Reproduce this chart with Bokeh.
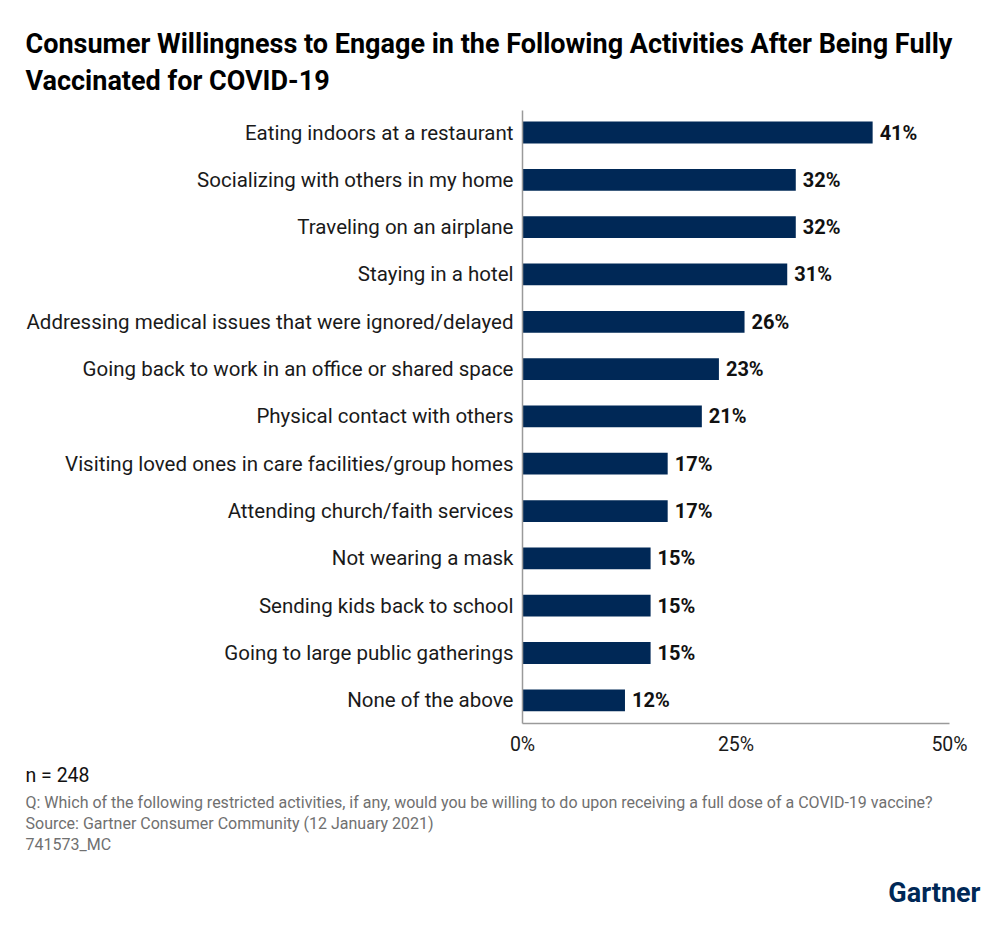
from bokeh.plotting import figure
from bokeh.models import ColumnDataSource, FixedTicker, Title
from bokeh.core.properties import value
from bokeh.embed import file_html
from bokeh.resources import INLINE

categories = [
    "Eating indoors at a restaurant",
    "Socializing with others in my home",
    "Traveling on an airplane",
    "Staying in a hotel",
    "Addressing medical issues that were ignored/delayed",
    "Going back to work in an office or shared space",
    "Physical contact with others",
    "Visiting loved ones in care facilities/group homes",
    "Attending church/faith services",
    "Not wearing a mask",
    "Sending kids back to school",
    "Going to large public gatherings",
    "None of the above",
]
values = [41, 32, 32, 31, 26, 23, 21, 17, 17, 15, 15, 15, 12]
x_ticks = [0, 25, 50]
x_tick_labels = ["0%", "25%", "50%"]

title_lines = [
    "Consumer Willingness to Engage in the Following Activities After Being Fully",
    "Vaccinated for COVID-19",
]
notes = [
    "n = 248",
    "Q: Which of the following restricted activities, if any, would you be willing to do upon receiving a full dose of a COVID-19 vaccine?",
    "Source: Gartner Consumer Community (12 January 2021)",
    "741573_MC",
]
brand = "Gartner"

n = len(categories)
ypos = [n - 1 - i for i in range(n)]
src = ColumnDataSource(dict(y=ypos, v=values, lab=[f"{v}%" for v in values]))

W, H = 1000, 947
FL, FR, FT, FB = 522, 949, 110, 723

p = figure(width=W, height=H, output_backend="svg", toolbar_location=None,
           x_range=(0, 50), y_range=(-0.49, n - 1 + 0.465),
           min_border_left=FL, min_border_right=W - FR,
           min_border_top=FT, min_border_bottom=H - FB)
p.outline_line_color = None
p.grid.grid_line_color = None
p.background_fill_color = "white"
p.border_fill_color = "white"

p.hbar(y="y", right="v", left=0, height=0.46, source=src,
       fill_color="#002856", line_color=None)
p.text(x="v", y="y", text="lab", source=src, x_offset=7,
       text_baseline="middle", text_align="left",
       text_font=value("Roboto"), text_font_style="bold",
       text_font_size="20px", text_color="#111111")

# y axis: categories
p.yaxis.ticker = FixedTicker(ticks=ypos)
p.yaxis.major_label_overrides = {y: c for y, c in zip(ypos, categories)}
p.yaxis.major_tick_line_color = None
p.yaxis.minor_tick_line_color = None
p.yaxis.axis_line_color = "#9a9a9a"
p.yaxis.axis_line_width = 1.5
p.yaxis.major_label_text_font = "Roboto"
p.yaxis.major_label_text_font_size = "20.5px"
p.yaxis.major_label_text_color = "#1a1a1a"
p.yaxis.major_label_standoff = 3

# x axis
p.xaxis.ticker = FixedTicker(ticks=x_ticks)
p.xaxis.major_label_overrides = {t: l for t, l in zip(x_ticks, x_tick_labels)}
p.xaxis.major_tick_line_color = None
p.xaxis.minor_tick_line_color = None
p.xaxis.axis_line_color = "#9a9a9a"
p.xaxis.axis_line_width = 1.5
p.xaxis.major_label_text_font = "Roboto"
p.xaxis.major_label_text_font_size = "19.5px"
p.xaxis.major_label_text_color = "#1a1a1a"
p.xaxis.major_label_standoff = 3


def title(text, side, size, color, bold=False, align="left", offset=None,
          standoff=0, line_height=1.0):
    if offset is None:
        offset = 25 - FL
    p.add_layout(Title(text=text, text_font="Roboto", text_font_size=size,
                       text_color=color, text_font_style="bold" if bold else "normal",
                       align=align, offset=offset, standoff=standoff,
                       text_line_height=line_height), side)


# above: two-line title
title("\n".join(title_lines), "above", "27px", "#000000", bold=True,
      standoff=27, line_height=1.16)
# below: closest to the axis first
title(notes[0], "below", "19.5px", "#111111", standoff=7)
title(notes[1], "below", "16px", "#707070", standoff=0)
title(notes[2], "below", "16px", "#707070", standoff=0)
title(notes[3], "below", "16px", "#707070", standoff=0)
title(brand, "below", "27px", "#002856", bold=True, align="right", offset=-31, standoff=43)

open("out.html", "w").write(file_html(p, INLINE))
